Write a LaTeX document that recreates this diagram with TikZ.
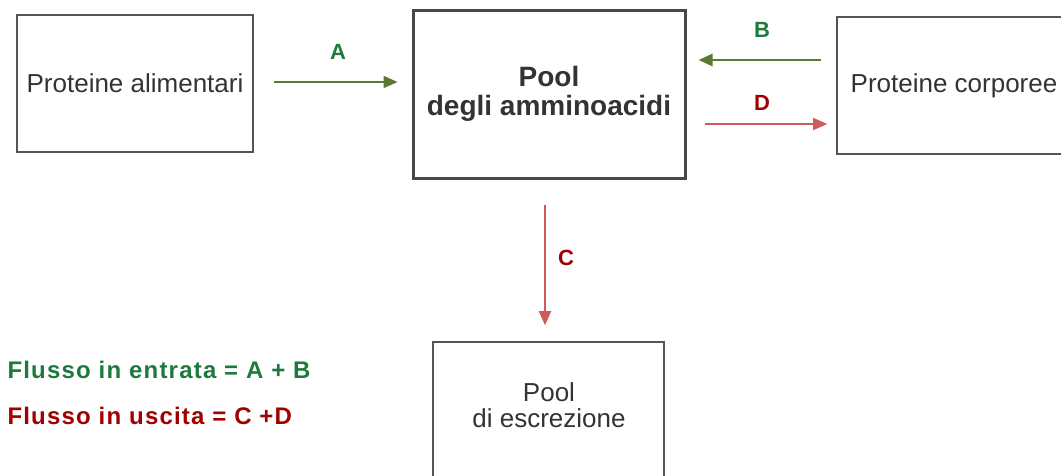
\documentclass[tikz,border=0pt]{standalone}
\usepackage{fontspec}
\setmainfont{Liberation Sans}
\newfontfamily\spacedbold[LetterSpace=5]{Liberation Sans}
\usetikzlibrary{arrows.meta}
\definecolor{boxline}{HTML}{555555}
\definecolor{boxtext}{HTML}{333333}
\definecolor{inarrow}{HTML}{5A7A32}
\definecolor{inlabel}{HTML}{1E7A3C}
\definecolor{outarrow}{HTML}{D05A5A}
\definecolor{outlabel}{HTML}{A00000}
\tikzset{
  box/.style={draw=boxline, line width=1.6pt, rectangle, minimum width=236pt,
    minimum height=137pt, inner sep=0pt, text=boxtext, align=center,
    font=\fontsize{26}{29}\selectfont},
  mainbox/.style={box, draw=boxline!85!black, line width=3pt, minimum width=272pt,
    minimum height=168pt, font=\bfseries\fontsize{28}{29}\selectfont},
  flow/.style={line width=1.8pt, -{Triangle[length=14pt,width=12pt]}},
  inflow/.style={flow, draw=inarrow, fill=inarrow},
  outflow/.style={flow, draw=outarrow, fill=outarrow},
  flowlabel/.style={font=\bfseries\fontsize{22}{24}\selectfont},
  sumline/.style={anchor=west, font=\spacedbold\bfseries\fontsize{24}{26}\selectfont}
}
\begin{document}
\begin{tikzpicture}[x=1pt,y=-1pt]
\useasboundingbox (0,0) rectangle (1061,475);

% compartments
\node[box] (alim) at (135,83.5) {Proteine alimentari};
\node[mainbox] (pool) at (549,94) {Pool\\degli amminoacidi};
\node[box, minimum width=234pt] (corp) at (954,85.5) {Proteine corporee};
\node[box, minimum width=231pt, minimum height=180pt] (escr) at (548.5,432) {};
\node[text=boxtext, align=center, font=\fontsize{26}{26}\selectfont] (escrtext) at (549,405) {Pool\\di escrezione};

% fluxes
\draw[inflow, shorten <=20pt, shorten >=14pt] ([yshift=1.5pt]alim.east) -- ([yshift=1.5pt]alim.east -| pool.west);
\draw[inflow, line width=2.6pt, shorten <=15pt, shorten >=12pt] ([yshift=25.5pt]corp.west) -- ([yshift=25.5pt]corp.west -| pool.east);
\draw[outflow, shorten <=18pt, shorten >=9pt] ([yshift=-38.5pt]corp.west -| pool.east) -- ([yshift=-38.5pt]corp.west);
\draw[outflow, shorten <=25pt, shorten >=16pt] ([xshift=-4pt]pool.south) -- ([xshift=-4pt]pool.south |- escr.north);

% flux labels
\node[flowlabel, text=inlabel] (la) at (338,52) {A};
\node[flowlabel, text=inlabel] (lb) at (762,30) {B};
\node[flowlabel, text=outlabel] (ld) at (762,103) {D};
\node[flowlabel, text=outlabel] (lc) at (566,258) {C};

% balance
\node[sumline, text=inlabel] (fin) at (4,370) {Flusso in entrata = A + B};
\node[sumline, text=outlabel] (fout) at (4,416) {Flusso in uscita = C +D};
\end{tikzpicture}
\end{document}
